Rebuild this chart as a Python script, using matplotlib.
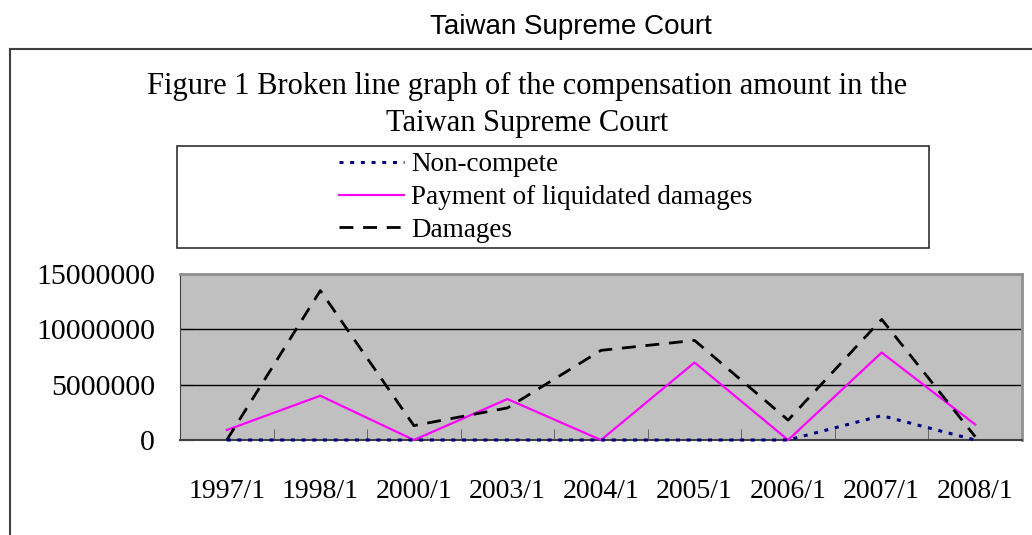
import matplotlib.pyplot as plt
from matplotlib.patches import Rectangle

years = ["1997/1", "1998/1", "2000/1", "2003/1", "2004/1", "2005/1", "2006/1", "2007/1", "2008/1"]
non_compete = [0, 0, 0, 0, 0, 0, 0, 2200000, 0]
liquidated = [900000, 4000000, 0, 3700000, 0, 7000000, 0, 7900000, 1400000]
damages = [0, 13500000, 1300000, 2900000, 8100000, 9000000, 1800000, 10900000, 300000]
y_ticks = [0, 5000000, 10000000, 15000000]

W, H = 1032, 535
SERIF = "Liberation Serif"

fig = plt.figure(figsize=(W / 100, H / 100), dpi=100)

def fx(px):
    return px / W

def fy(py):
    return 1 - py / H

# outer frame (cut off at right and bottom)
fig.add_artist(Rectangle((fx(10), -0.2), 1.2, fy(49) + 0.2, transform=fig.transFigure,
                         fill=False, edgecolor="#404040", lw=1.5))

fig.text(fx(571), fy(27), "Taiwan Supreme Court", family="Liberation Sans",
         fontsize=20, ha="center", va="center")
fig.text(fx(527), fy(105), "Figure 1 Broken line graph of the compensation amount in the\nTaiwan Supreme Court",
         family=SERIF, fontsize=22, ha="center", va="center", linespacing=1.37)

# plot area
ax = fig.add_axes([fx(180), fy(440), fx(1022) - fx(180), fy(274) - fy(440)])
ax.set_facecolor("#C0C0C0")
x = range(len(years))
l1, = ax.plot(x, non_compete, color="#000080", lw=2.2, linestyle=(0, (1.3, 2.2)),
              label="Non-compete", zorder=4, clip_on=False)
l2, = ax.plot(x, liquidated, color="#FF00FF", lw=1.6, label="Payment of liquidated damages",
              zorder=3, clip_on=False)
l3, = ax.plot(x, damages, color="black", lw=2, linestyle=(0, (5, 3.5)), label="Damages",
              zorder=3, clip_on=False)

ax.set_xlim(-0.5, len(years) - 0.5)
ax.set_ylim(0, 15000000)
ax.set_yticks(y_ticks)
ax.set_yticklabels([str(v) for v in y_ticks], family=SERIF, fontsize=21.5)
ax.set_xticks(list(x))
ax.set_xticklabels(years, family=SERIF, fontsize=20)
ax.set_xticks([i + 0.5 for i in range(len(years) - 1)], minor=True)
ax.tick_params(axis="x", which="major", length=0, pad=28)
ax.tick_params(axis="x", which="minor", direction="in", length=8, color="#555555")
ax.tick_params(axis="y", direction="in", length=9, pad=18)
ax.grid(axis="y", color="black", lw=1)
ax.set_axisbelow(True)
for s in ["top", "right"]:
    ax.spines[s].set_color("#909090")
    ax.spines[s].set_linewidth(2)
ax.spines["left"].set_color("#404040")
ax.spines["bottom"].set_color("#404040")
ax.spines["bottom"].set_linewidth(1.5)

# legend box
fig.add_artist(Rectangle((fx(177), fy(248)), fx(929) - fx(177), fy(146) - fy(248),
                         transform=fig.transFigure, fill=False, edgecolor="#303030", lw=1.2))
fig.legend(handles=[l1, l2, l3], loc="center", bbox_to_anchor=(fx(546), fy(197.5)),
           frameon=False, prop={"family": SERIF, "size": 19.5}, handlelength=2.4,
           handletextpad=0.25, labelspacing=0.28, borderpad=0)

fig.savefig("out.png", dpi=100)
